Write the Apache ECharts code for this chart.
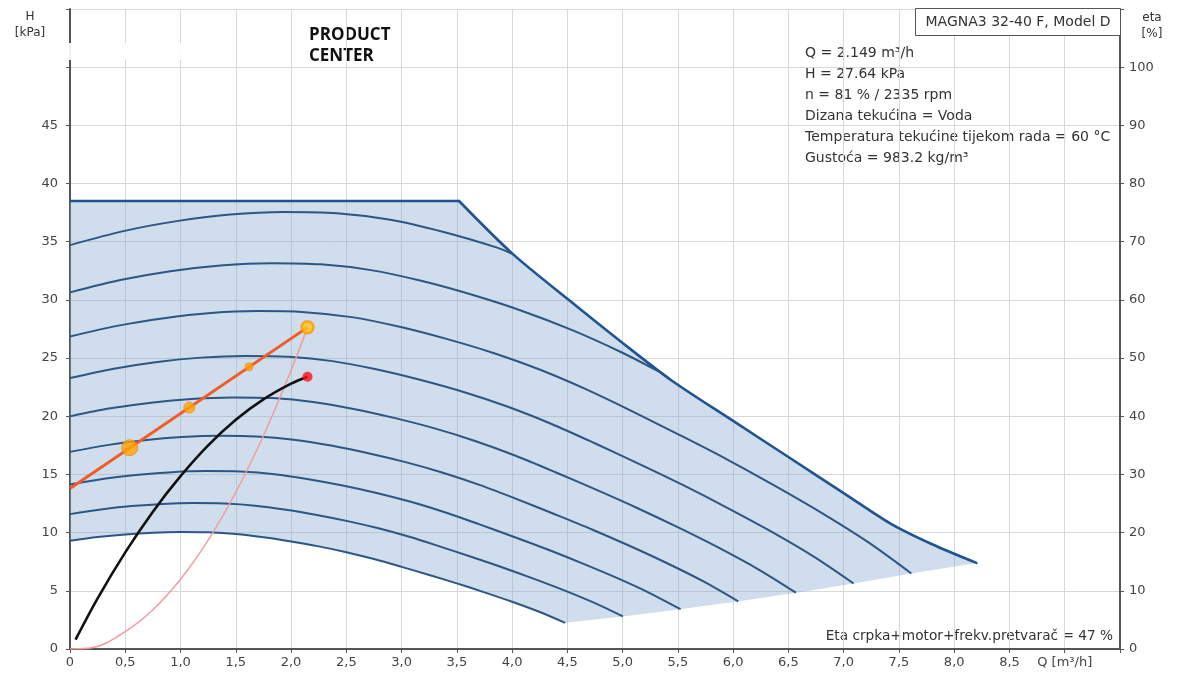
<!DOCTYPE html>
<html><head><meta charset="utf-8">
<script src="https://cdn.jsdelivr.net/npm/echarts@6/dist/echarts.min.js"></script>
<style>html,body{margin:0;padding:0;background:#fff}#c{width:1178px;height:677px}</style>
</head><body><div id="c"></div>
<script>
// ---- tick labels ----
const qTickLabels = ['0','0,5','1,0','1,5','2,0','2,5','3,0','3,5','4,0','4,5','5,0','5,5','6,0','6,5','7,0','7,5','8,0','8,5','Q [m³/h]',''];
const hTickLabels = ['0','5','10','15','20','25','30','35','40','45','',''];
const etaTickLabels = ['0','10','20','30','40','50','60','70','80','90','100',''];

// ---- pump envelope (Q [m3/h], H [kPa]) ----
const maxCurve = [[0,38.5],[3.52,38.5],[4.0,34.0],[4.5,30.1],[5.0,26.3],[5.44,23.1],[6.0,19.6],[6.5,16.5],[7.0,13.4],[7.42,10.8],[7.8,9.0],[8.2,7.4]];
const bottomEdge = [[4.48,2.25],[5.0,2.80],[5.52,3.42],[6.05,4.10],[6.57,4.84],[7.09,5.63],[7.61,6.49],[8.2,7.4]];

// ---- speed curves ----
const speedCurve1 = [[0,34.71],[0.483,35.91],[0.966,36.77],[1.449,37.33],[1.932,37.55],[2.415,37.44],[2.898,36.88],[3.381,35.83],[3.864,34.49],[4.0,33.97]];
const speedCurve2 = [[0,30.65],[0.454,31.71],[0.908,32.47],[1.362,32.96],[1.816,33.16],[2.269,33.06],[2.723,32.56],[3.177,31.64],[3.631,30.46],[4.085,29.07],[4.539,27.42],[4.993,25.48],[5.33,23.83]];
const speedCurve3 = [[0,26.85],[0.425,27.77],[0.85,28.43],[1.274,28.87],[1.699,29.04],[2.124,28.95],[2.549,28.52],[2.973,27.71],[3.398,26.67],[3.823,25.46],[4.248,24.02],[4.672,22.31],[5.097,20.38],[5.522,18.36],[5.947,16.28],[6.371,14.06],[6.796,11.72],[7.221,9.18],[7.612,6.49]];
const speedCurve4 = [[0,23.29],[0.396,24.09],[0.791,24.67],[1.187,25.04],[1.583,25.19],[1.978,25.12],[2.374,24.74],[2.769,24.04],[3.165,23.14],[3.561,22.09],[3.956,20.84],[4.352,19.36],[4.748,17.68],[5.143,15.93],[5.539,14.12],[5.934,12.20],[6.33,10.17],[6.726,7.96],[7.09,5.63]];
const speedCurve5 = [[0,19.99],[0.367,20.68],[0.733,21.17],[1.1,21.49],[1.466,21.62],[1.833,21.56],[2.199,21.23],[2.566,20.63],[2.932,19.86],[3.299,18.96],[3.665,17.88],[4.032,16.61],[4.398,15.17],[4.765,13.67],[5.131,12.12],[5.498,10.47],[5.864,8.73],[6.231,6.83],[6.568,4.84]];
const speedCurve6 = [[0,16.94],[0.337,17.52],[0.675,17.94],[1.012,18.21],[1.35,18.32],[1.687,18.27],[2.024,17.99],[2.362,17.48],[2.699,16.83],[3.036,16.06],[3.374,15.15],[3.711,14.08],[4.049,12.86],[4.386,11.58],[4.723,10.27],[5.061,8.87],[5.398,7.39],[5.735,5.79],[6.046,4.10]];
const speedCurve7 = [[0,14.14],[0.308,14.63],[0.617,14.97],[0.925,15.20],[1.233,15.29],[1.541,15.25],[1.85,15.02],[2.158,14.59],[2.466,14.05],[2.774,13.41],[3.083,12.65],[3.391,11.75],[3.699,10.73],[4.007,9.67],[4.316,8.57],[4.624,7.40],[4.932,6.17],[5.24,4.83],[5.524,3.42]];
const speedCurve8 = [[0,11.59],[0.279,11.99],[0.558,12.28],[0.837,12.47],[1.117,12.54],[1.396,12.50],[1.675,12.32],[1.954,11.97],[2.233,11.52],[2.512,10.99],[2.791,10.37],[3.071,9.64],[3.35,8.80],[3.629,7.93],[3.908,7.03],[4.187,6.07],[4.466,5.06],[4.745,3.96],[5.002,2.80]];
const speedCurve9 = [[0,9.30],[0.25,9.62],[0.5,9.85],[0.75,10.00],[1.0,10.06],[1.25,10.03],[1.5,9.88],[1.75,9.60],[2.0,9.24],[2.25,8.82],[2.5,8.32],[2.75,7.73],[3.0,7.06],[3.25,6.36],[3.5,5.64],[3.75,4.87],[4.0,4.06],[4.25,3.18],[4.48,2.25]];

// ---- system / duty ----
const dutyLine = [[0,13.8],[2.149,27.64]];
const dutyMarkers = [[0.54,17.3],[1.08,20.75],[1.62,24.25]];
const dutyPoint = [[2.149,27.64]];
const systemCurve = [[0,0],[0.2,0.1],[0.5,1.5],[0.75,3.37],[1.0,5.99],[1.25,9.35],[1.5,13.47],[1.75,18.33],[2.0,23.94],[2.149,27.64]];
// ---- efficiency (eta %, right axis) ----
const etaCurve = [[0.05,1.6],[0.25,8.7],[0.5,16.6],[0.75,23.6],[1.0,29.7],[1.25,35.0],[1.5,39.4],[1.75,42.9],[2.0,45.6],[2.149,46.8]];
const etaPoint = [[2.149,46.8]];

const infoLines = ['Q = 2.149 m³/h','H = 27.64 kPa','n = 81 % / 2335 rpm','Dizana tekućina = Voda','Temperatura tekućine tijekom rada = 60 °C','Gustoća = 983.2 kg/m³'];

const fillOutline = maxCurve.concat(bottomEdge.slice().reverse().slice(1), speedCurve9.slice().reverse());
const speedCurves = [speedCurve1,speedCurve2,speedCurve3,speedCurve4,speedCurve5,speedCurve6,speedCurve7,speedCurve8,speedCurve9];

const FONT = 'DejaVu Sans';
const chart = echarts.init(document.getElementById('c'), null, {renderer:'canvas'});

const series = [];
series.push({
  type:'custom', xAxisIndex:0, yAxisIndex:0, z:1, silent:true,
  data:[[0,0]],
  renderItem:(params, api) => ({
    type:'polygon',
    shape:{points: fillOutline.map(p => api.coord(p))},
    style:{fill:'rgba(130,165,205,0.38)'}
  })
});
speedCurves.forEach(c => series.push({
  type:'line', data:c, smooth:0.3, showSymbol:false, silent:true, z:3,
  lineStyle:{color:'#2c5684', width:2}
}));
series.push({type:'line', data:maxCurve.slice(0,2), showSymbol:false, silent:true, z:4, lineStyle:{color:'#1f5490', width:2.6}});
series.push({type:'line', data:maxCurve.slice(1), smooth:0.3, showSymbol:false, silent:true, z:4, lineStyle:{color:'#1f5490', width:2.6, cap:'round'}});
series.push({type:'line', data:systemCurve, smooth:0.35, showSymbol:false, silent:true, z:5, lineStyle:{color:'#f29c9c', width:1.5}});
series.push({type:'line', yAxisIndex:1, data:etaCurve, smooth:0.35, showSymbol:false, silent:true, z:6, lineStyle:{color:'#111', width:2.6}});
series.push({type:'scatter', yAxisIndex:1, data:etaPoint, symbolSize:10, z:7, itemStyle:{color:'#ff1010'}});
series.push({type:'line', data:dutyLine, showSymbol:false, silent:true, z:8, lineStyle:{color:'#f25a26', width:3}});
series.push({type:'scatter', data:dutyMarkers, z:9, symbolSize:(v,p)=>[16,11,8][p.dataIndex],
  itemStyle:{color:'#ffa500', borderColor:'#f58a1f', borderWidth:1}});
series.push({type:'scatter', data:dutyPoint, z:9, symbolSize:12, itemStyle:{color:'#ffc61a', borderColor:'#ff9a00', borderWidth:2.5}});

const txt = (x,y,text,opt) => Object.assign({type:'text', x, y, style:Object.assign({text, fill:'#333', font:'13px "'+FONT+'"', textAlign:'left', textVerticalAlign:'middle'}, opt||{})});

const graphic = [
  {type:'rect', shape:{x:66, y:43, width:138, height:17}, style:{fill:'rgba(255,255,255,0.92)'}, z:10},
  txt(30,17,'H',{textAlign:'center', font:'12px "'+FONT+'"'}),
  txt(30,33,'[kPa]',{textAlign:'center', font:'12px "'+FONT+'"'}),
  txt(1152,18,'eta',{textAlign:'center', font:'12px "'+FONT+'"'}),
  txt(1152,34,'[%]',{textAlign:'center', font:'12px "'+FONT+'"'}),
  txt(309,35,'PRODUCT',{font:'bold 17px "Open Sans"', fill:'#111'}),
  txt(309,56,'CENTER',{font:'bold 17px "Open Sans"', fill:'#111'}),
  {type:'rect', shape:{x:915.5, y:8.5, width:205, height:27}, style:{fill:'#fff', stroke:'#555', lineWidth:1}, z:10},
  Object.assign(txt(1018,22,'MAGNA3 32-40 F, Model D',{textAlign:'center', font:'14px "'+FONT+'"'}),{z:11}),
  txt(1113,636,'Eta crpka+motor+frekv.pretvarač = 47 %',{textAlign:'right', font:'13.7px "'+FONT+'"'})
];
infoLines.forEach((t,i) => graphic.push(txt(805, 53 + i*21, t, {font:'14px "'+FONT+'"'})));

chart.setOption({
  animation:false,
  backgroundColor:'#fff',
  grid:{left:70, right:58, top:9, bottom:28, containLabel:false},
  xAxis:{type:'value', min:0, max:9.5, interval:0.5,
    axisLine:{show:true, onZero:false, lineStyle:{color:'#555', width:2}},
    axisTick:{show:true, length:4, lineStyle:{color:'#555'}},
    axisLabel:{color:'#444', fontSize:13, fontFamily:FONT, margin:7, formatter:v => qTickLabels[Math.round(v/0.5)]},
    splitLine:{show:true, lineStyle:{color:'#d8d8d8', width:1}}},
  yAxis:[
    {type:'value', min:0, max:55, interval:5, position:'left',
     axisLine:{show:true, onZero:false, lineStyle:{color:'#555', width:2}},
     axisTick:{show:true, length:4, lineStyle:{color:'#555'}},
     axisLabel:{color:'#444', fontSize:13, fontFamily:FONT, margin:12, formatter:v => hTickLabels[Math.round(v/5)]},
     splitLine:{show:true, lineStyle:{color:'#d8d8d8', width:1}}},
    {type:'value', min:0, max:110, interval:10, position:'right',
     axisLine:{show:true, onZero:false, lineStyle:{color:'#555', width:2}},
     axisTick:{show:true, length:4, lineStyle:{color:'#555'}},
     axisLabel:{color:'#444', fontSize:13, fontFamily:FONT, margin:9, formatter:v => etaTickLabels[Math.round(v/10)]},
     splitLine:{show:false}}
  ],
  series,
  graphic
});
</script></body></html>
